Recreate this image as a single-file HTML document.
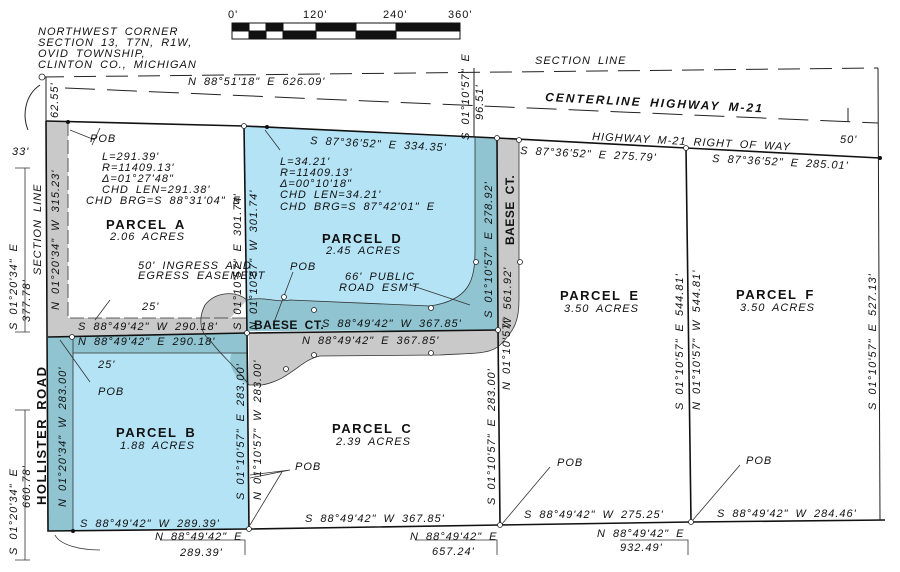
<!DOCTYPE html>
<html><head><meta charset="utf-8"><style>
body{margin:0;background:#fff}
svg{display:block}
text{font-family:"Liberation Sans",sans-serif;font-style:italic;font-size:11px;letter-spacing:1px;word-spacing:3px;fill:#111}
.b{font-weight:bold;font-style:normal;font-size:13px;letter-spacing:1.5px}
</style></head><body>
<svg width="900" height="572" viewBox="0 0 900 572" xmlns="http://www.w3.org/2000/svg">
<polygon points="244,126 497,138 497,330 247,331" fill="#b3e3f5"/>
<polygon points="48,337 247,333 249,529 73,531" fill="#b3e3f5"/>
<path d="M475,137 L497,138 L497,330 L247,331 L247,300 C265,296 275,303 290,300 L430,306 C470,300 475,280 475,250 Z" fill="#8fc4d0"/>
<path d="M247,300 C235,290 215,292 205,305 C198,318 200,333 210,340" fill="#c9c9c9"/>
<polygon points="46,121 68,122 68,318 72,318 247,318 247,337 48,337" fill="#c9c9c9"/>
<polygon points="48,337 247,333 247,353 73,353 73,531 48,531" fill="#8fc4d0"/>
<path d="M247,333 C235,345 220,360 240,380 L249,385 Z" fill="#8fc4d0"/>
<path d="M497,138 L519,140 L519,300 C519,320 515,330 500,345 C490,355 470,353 440,355 L320,356 C300,360 290,380 262,385 L249,385 L249,333 L498,330 Z" fill="#c9c9c9"/>
<path d="M497,300 L497,330 L480,330 C490,325 495,315 497,300Z" fill="#8fc4d0"/>
<g stroke="#222" stroke-width="1" fill="none">
<path d="M42,77 L878,68" stroke-dasharray="22,10"/>
<path d="M65,88 L878,123" stroke-dasharray="30,12"/>
<path d="M878,68 L880,520"/>
<path d="M474,68 L474,137"/>
<path d="M848,108 L848,122"/>
<path d="M46,77 L46,121"/>
<path d="M40,85 C25,95 22,115 28,130"/>
</g>
<g stroke="#111" stroke-width="1.6" fill="none">
<path d="M46,121 L244,126 L497,138 L686,148 L880,158"/>
<path d="M46,121 L48,531 L249,529 L500,525 L691,522 L885,520"/>
<path d="M244,126 L247,333 L249,529"/>
<path d="M497,138 L498,330 L500,525"/>
<path d="M686,148 L691,522"/>
<path d="M48,337 L247,333 L498,330"/>
</g>
<g stroke="#333" stroke-width="0.8" fill="none">
<path d="M68,122 L68,318 L247,318" stroke-dasharray="14,4"/>
<path d="M73,337 L73,531"/>
<path d="M73,353 L247,353"/>
<path d="M519,140 L519,300 C519,320 515,330 500,345 C490,355 470,353 440,355 L320,356 C300,360 290,380 262,385 L249,385"/>
<path d="M475,137 L475,250 C475,280 470,300 430,306 L290,300 C275,303 265,296 247,300"/>
<path d="M247,300 C235,290 215,292 205,305 C198,318 200,333 210,340 C220,355 235,365 249,385"/>
<path d="M70,130 L95,140 M100,128 L92,145 M265,130 L280,150 M60,340 L90,382 M250,475 L290,470 L250,478 M250,525 L282,472 M502,524 L550,467 M692,521 L740,465 M273,325 L293,272 M410,285 L470,305 M110,300 L95,320"/>
<path d="M15,168 L30,168 M15,332 L30,332 M15,410 L30,410 M15,560 L30,560 M25,168 L25,332 M25,410 L25,560"/>
<path d="M160,540 L245,540 L245,555 M415,540 L497,540 L497,555 M620,540 L688,540 L688,555"/>
<path d="M55,535 C60,545 80,550 100,550"/>
</g>
<g fill="#fff" stroke="#222" stroke-width="0.8">
<circle cx="244" cy="126" r="2.5"/><circle cx="497" cy="138" r="2.5"/><circle cx="519" cy="140" r="2.5"/><circle cx="686" cy="148" r="2.5"/>
<circle cx="247" cy="333" r="2.5"/><circle cx="498" cy="330" r="2.5"/><circle cx="249" cy="529" r="2.5"/><circle cx="500" cy="525" r="2.5"/><circle cx="691" cy="522" r="2.5"/><circle cx="72" cy="337" r="2.5"/>
<circle cx="284" cy="297" r="2.5"/><circle cx="314" cy="310" r="2.5"/><circle cx="431" cy="308" r="2.5"/><circle cx="476" cy="262" r="2.5"/><circle cx="520" cy="262" r="2.5"/>
<circle cx="286" cy="369" r="2.5"/><circle cx="314" cy="355" r="2.5"/><circle cx="431" cy="353" r="2.5"/><circle cx="42" cy="77" r="3"/>
</g>
<g fill="#111"><circle cx="68" cy="122" r="2"/><circle cx="267" cy="127" r="2"/><circle cx="880" cy="158" r="2"/><circle cx="73" cy="531" r="2"/></g>
<g stroke="#111" stroke-width="1">
<rect x="232" y="23" width="228" height="16" fill="#fff"/>
<rect x="232" y="23" width="17" height="8" fill="#111"/><rect x="266" y="23" width="17" height="8" fill="#111"/><rect x="249" y="31" width="17" height="8" fill="#111"/><rect x="283" y="31" width="17" height="8" fill="#111"/>
<rect x="300" y="31" width="16" height="8" fill="#111"/><rect x="316" y="23" width="40" height="8" fill="#111"/><rect x="356" y="31" width="40" height="8" fill="#111"/><rect x="396" y="23" width="64" height="8" fill="#111"/>
</g>
<text x="228" y="18" style="font-style:normal">0'</text><text x="303" y="18" style="font-style:normal">120'</text><text x="383" y="18" style="font-style:normal">240'</text><text x="448" y="18" style="font-style:normal">360'</text>
<text x="38" y="35" font-size="10" letter-spacing="0.8">NORTHWEST CORNER</text><text x="38" y="46" font-size="10" letter-spacing="0.8">SECTION 13, T7N, R1W,</text><text x="38" y="57" font-size="10" letter-spacing="0.8">OVID TOWNSHIP,</text><text x="38" y="68" font-size="10" letter-spacing="0.8">CLINTON CO., MICHIGAN</text>
<text x="535" y="64" font-size="9">SECTION LINE</text>
<text x="188" y="85">N 88°51'18" E 626.09'</text>
<text x="545" y="101" class="b" transform="rotate(3 545 101)" style="font-style:italic;font-size:12px;letter-spacing:2px">CENTERLINE HIGHWAY M-21</text>
<text x="592" y="140" font-size="10" transform="rotate(3 592 140)">HIGHWAY M-21 RIGHT OF WAY</text><text x="840" y="143">50'</text>
<text x="520" y="154" transform="rotate(3 520 154)">S 87°36'52" E 275.79'</text>
<text x="712" y="162" transform="rotate(3 712 162)">S 87°36'52" E 285.01'</text>
<text x="310" y="144" transform="rotate(3 310 144)">S 87°36'52" E 334.35'</text>
<text x="90" y="142" font-size="10">POB</text><text x="12" y="155">33'</text>
<text x="102" y="160">L=291.39'</text><text x="102" y="171">R=11409.13'</text><text x="102" y="182">Δ=01°27'48"</text><text x="102" y="193">CHD LEN=291.38'</text><text x="86" y="204">CHD BRG=S 88°31'04" E</text>
<text x="280" y="165">L=34.21'</text><text x="280" y="176">R=11409.13'</text><text x="280" y="187">Δ=00°10'18"</text><text x="280" y="198">CHD LEN=34.21'</text><text x="280" y="210">CHD BRG=S 87°42'01" E</text>
<text x="106" y="229" class="b">PARCEL A</text><text x="110" y="240">2.06 ACRES</text>
<text x="322" y="243" class="b">PARCEL D</text><text x="326" y="254">2.45 ACRES</text>
<text x="138" y="269" font-size="9">50' INGRESS AND</text><text x="138" y="279" font-size="9">EGRESS EASEMENT</text>
<text x="290" y="270" font-size="8">POB</text>
<text x="345" y="280">66' PUBLIC</text><text x="339" y="291">ROAD ESM'T</text>
<text x="142" y="310" font-size="8">25'</text><text x="98" y="368" font-size="8">25'</text>
<text x="78" y="330">S 88°49'42" W 290.18'</text>
<text x="78" y="345">N 88°49'42" E 290.18'</text>
<text x="254" y="329" class="b" style="font-size:12px;letter-spacing:0.5px">BAESE CT.</text><text x="322" y="327" font-size="9.5">S 88°49'42" W 367.85'</text>
<text x="302" y="344">N 88°49'42" E 367.85'</text>
<text x="98" y="395" font-size="9">POB</text>
<text x="116" y="437" class="b">PARCEL B</text><text x="120" y="449">1.88 ACRES</text>
<text x="332" y="433" class="b">PARCEL C</text><text x="336" y="445">2.39 ACRES</text>
<text x="560" y="300" class="b">PARCEL E</text><text x="564" y="312">3.50 ACRES</text>
<text x="736" y="299" class="b">PARCEL F</text><text x="740" y="311">3.50 ACRES</text>
<text x="295" y="470" font-size="8">POB</text><text x="557" y="466" font-size="8">POB</text><text x="746" y="464" font-size="8">POB</text>
<text x="80" y="527">S 88°49'42" W 289.39'</text>
<text x="305" y="522">S 88°49'42" W 367.85'</text>
<text x="524" y="518">S 88°49'42" W 275.25'</text>
<text x="717" y="517">S 88°49'42" W 284.46'</text>
<text x="155" y="540">N 88°49'42" E</text><text x="180" y="556">289.39'</text>
<text x="410" y="540">N 88°49'42" E</text><text x="432" y="555">657.24'</text>
<text x="597" y="537">N 88°49'42" E</text><text x="620" y="551">932.49'</text>
<g>
<text transform="translate(58,118) rotate(-90)">62.55'</text>
<text transform="translate(59,310) rotate(-90)">N 01°20'34" W 315.23'</text>
<text transform="translate(41,275) rotate(-90)">SECTION LINE</text>
<text transform="translate(17,330) rotate(-90)">S 01°20'34" E</text>
<text transform="translate(30,322) rotate(-90)">377.78'</text>
<text transform="translate(17,555) rotate(-90)">S 01°20'34" E</text>
<text transform="translate(30,508) rotate(-90)">660.78'</text>
<text transform="translate(46,505) rotate(-90)" class="b" style="font-size:13px">HOLLISTER ROAD</text>
<text transform="translate(66,507) rotate(-90)">N 01°20'34" W 283.00'</text>
<text transform="translate(241,330) rotate(-90)" font-size="10.5">S 01°10'57" E 301.74'</text>
<text transform="translate(257,330) rotate(-90)" font-size="10.5">N 01°10'57" W 301.74'</text>
<text transform="translate(244,500) rotate(-90)">S 01°10'57" E 283.00'</text>
<text transform="translate(261,500) rotate(-90)">N 01°10'57" W 283.00'</text>
<text transform="translate(492,318) rotate(-90)">S 01°10'57" E 278.92'</text>
<text transform="translate(514,245) rotate(-90)" class="b" style="font-size:12px;letter-spacing:0.5px">BAESE CT.</text>
<text transform="translate(511,328) rotate(-90)" font-size="8.5">W 561.92'</text>
<text transform="translate(469,140) rotate(-90)" font-size="9.5">S 01°10'57" E</text>
<text transform="translate(483,120) rotate(-90)" font-size="9.5">96.51'</text>
<text transform="translate(495,505) rotate(-90)">S 01°10'57" E 283.00'</text>
<text transform="translate(510,390) rotate(-90)" font-size="9.5">N 01°10'57"</text>
<text transform="translate(683,410) rotate(-90)">S 01°10'57" E 544.81'</text>
<text transform="translate(700,410) rotate(-90)">N 01°10'57" W 544.81'</text>
<text transform="translate(876,410) rotate(-90)">S 01°10'57" E 527.13'</text>
</g>
</svg>
</body></html>
